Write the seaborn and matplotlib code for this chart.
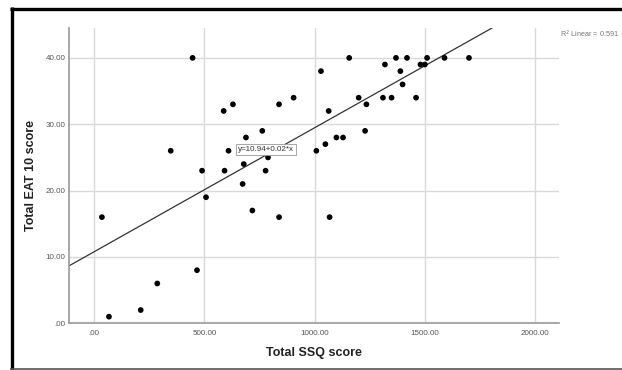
import numpy as np
import pandas as pd
import seaborn as sns
import matplotlib.pyplot as plt
from matplotlib.lines import Line2D

# Scatter data
ssq = [36, 68, 212, 287, 348, 447, 467, 490, 508, 588, 592, 610, 630, 674, 679,
       689, 718, 763, 778, 789, 839, 839, 905, 1008, 1029, 1049, 1064, 1068, 1099,
       1129, 1157, 1200, 1229, 1235, 1310, 1319, 1349, 1369, 1389, 1399, 1419,
       1460, 1480, 1500, 1510, 1589, 1700]
eat10 = [16, 1, 2, 6, 26, 40, 8, 23, 19, 32, 23, 26, 33, 21, 24,
         28, 17, 29, 23, 25, 33, 16, 34, 26, 38, 27, 32, 16, 28,
         28, 40, 34, 29, 33, 34, 39, 34, 40, 38, 36, 40,
         34, 39, 39, 40, 40, 40]

x_ticks = [0, 500, 1000, 1500, 2000]
x_ticklabels = [".00", "500.00", "1000.00", "1500.00", "2000.00"]
y_ticks = [0, 10, 20, 30, 40]
y_ticklabels = [".00", "10.00", "20.00", "30.00", "40.00"]

fit_label = "y=10.94+0.02*x"
r2_label = "R$^2$ Linear = 0.591"

df = pd.DataFrame({"Total SSQ score": ssq, "Total EAT 10 score": eat10})

sns.set_theme(style="whitegrid")
plt.rcParams["font.family"] = ["Liberation Sans", "DejaVu Sans"]

fig = plt.figure(figsize=(6.22, 3.70), dpi=100)
ax = fig.add_axes([0.1117, 0.1262, 0.787, 0.7981])

ax.set_xlim(-111, 2108)
ax.set_ylim(0, 44.5)

sns.regplot(x="Total SSQ score", y="Total EAT 10 score", data=df, ax=ax,
            ci=None, truncate=False,
            scatter_kws=dict(s=17, color="black", edgecolors="none", alpha=1, zorder=3),
            line_kws=dict(color="#333333", lw=0.9, zorder=2))

ax.set_xlim(-111, 2108)
ax.set_ylim(0, 44.5)
ax.set_xticks(x_ticks)
ax.set_xticklabels(x_ticklabels)
ax.set_yticks(y_ticks)
ax.set_yticklabels(y_ticklabels)
ax.tick_params(axis="both", length=0, labelsize=5.8, colors="#555555")
ax.tick_params(axis="x", pad=5)
ax.tick_params(axis="y", pad=3)

ax.grid(True, color="#d9d9d9", lw=1)
for side in ["top", "right"]:
    ax.spines[side].set_visible(False)
for side in ["left", "bottom"]:
    ax.spines[side].set_visible(True)
    ax.spines[side].set_color("#999999")
    ax.spines[side].set_linewidth(1.2)

ax.set_xlabel("Total SSQ score", fontsize=9, fontweight="bold", color="#222222", labelpad=7)
ax.set_ylabel("Total EAT 10 score", fontsize=9, fontweight="bold", color="#222222", labelpad=6)

ax.text(780, 26.25, fit_label, ha="center", va="center", fontsize=5.8, color="#333333",
        zorder=5, bbox=dict(boxstyle="square,pad=0.25", fc="white", ec="#999999", lw=0.6))
fig.text(0.900, 0.908, r2_label, ha="left", va="center", fontsize=5.2, color="#777777")

# black frame of the screenshot
fig.add_artist(Line2D([11.5 / 622, 11.5 / 622], [0, 1 - 6.9 / 370], transform=fig.transFigure,
                      color="black", lw=2.4, solid_capstyle="butt"))
fig.add_artist(Line2D([10 / 622, 1], [1 - 8.5 / 370, 1 - 8.5 / 370], transform=fig.transFigure,
                      color="black", lw=2.4, solid_capstyle="butt"))
fig.add_artist(Line2D([10 / 622, 1], [1.2 / 370, 1.2 / 370], transform=fig.transFigure,
                      color="#555555", lw=1.2, solid_capstyle="butt"))

fig.savefig("out.png", dpi=100)
